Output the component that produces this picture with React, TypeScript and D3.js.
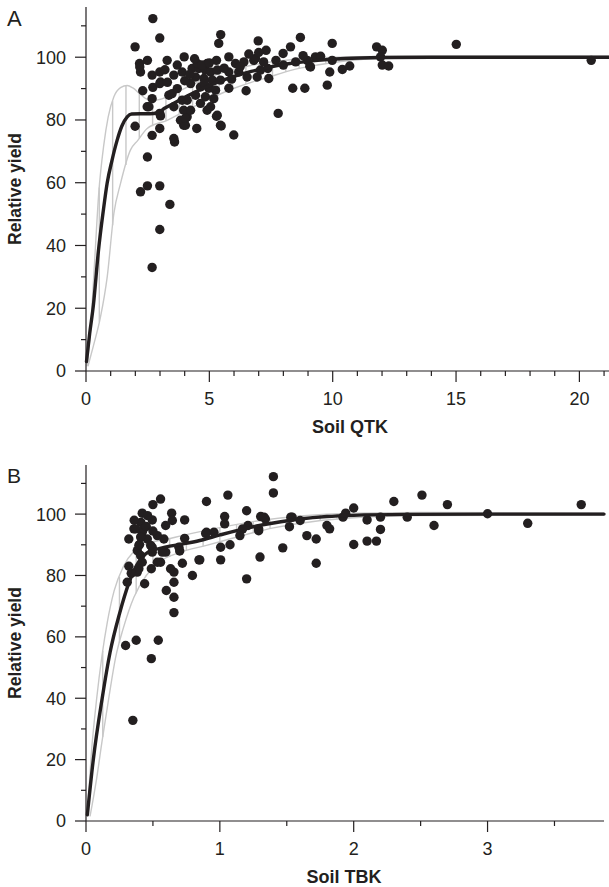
import React from 'react';
import * as d3 from 'd3';

const W = 609;
const H = 887;
const INK = '#231f20';
const GRAY = '#c8c8c8';
const FONT = '"Liberation Sans", Arial, Helvetica, sans-serif';

// ---------- Panel A: Soil QTK ----------
const pointsA: [number, number][] = [
  [2.71, 112.3], [2.99, 106.1], [1.99, 103.3], [5.46, 107.2], [5.38, 104.4], [6.98, 105.2], [8.69, 106.3], [8.29, 103.3], [7.30, 102.2], [7.99, 101.2],
  [2.17, 98], [2.21, 95.3], [2.49, 99], [3.29, 99], [3.98, 100.1], [2.68, 94.3], [2.99, 95.3], [3.02, 92.1], [3.56, 94.3], [3.90, 95.3],
  [2.30, 89.3], [2.71, 90.4], [2.68, 86.8], [2.48, 84.2], [3.02, 81.3], [1.99, 78], [2.68, 75.1], [2.99, 77.3], [2.49, 68.2], [3.59, 73],
  [4.49, 77.3], [5.48, 78.1], [5.99, 75.2], [7.79, 82.1], [8.38, 90.1], [8.87, 90.1], [5.79, 90.1], [6.49, 89.3], [5.79, 100.1], [5.29, 99],
  [6.40, 98.5], [6.80, 99], [7.37, 96.4], [9.10, 96.9], [9.30, 100.1], [3.36, 87.9], [5.29, 81.2], [4.10, 81], [3.96, 78.3],
  [2.21, 57.1], [2.49, 59], [2.99, 59], [3.40, 53.1], [2.99, 45.1], [2.68, 33],
  [9.98, 104.4], [9.78, 91.1], [9.88, 95.3], [9.98, 99], [10.39, 96.1], [10.69, 97.2], [8.97, 99], [9.07, 97.1], [9.51, 100.3],
  [11.78, 103.3], [12.01, 102.2], [12.01, 97.5], [12.27, 97.2], [11.94, 100.1], [15.01, 104.1], [20.48, 99],
  [2.18, 96.9], [2.99, 91.6], [3.49, 88.4], [2.55, 84.2], [3.56, 84.2], [3.90, 86.3], [3.96, 83.1], [3.83, 79.9], [4.03, 78.3], [3.56, 74.1], [2.99, 82.1],
  [4.30, 96.4], [4.57, 96.4], [4.84, 95.9], [5.05, 95.3], [5.32, 95.9], [4.44, 93.7], [4.78, 93.2], [5.12, 92.7], [4.24, 91.6], [4.64, 90.5],
  [4.98, 90.1], [5.25, 89.5], [4.44, 87.9], [4.84, 87.4], [5.18, 86.8], [4.10, 86.3], [4.64, 85.3], [5.05, 84.2], [5.32, 81.5], [5.45, 78.3],
  [4.24, 83.1], [4.03, 80.5], [4.91, 83.1], [4.51, 98], [4.91, 98],
  [6.06, 98], [6.87, 99.6], [5.79, 95.3], [6.19, 95.3], [6.53, 93.7], [6.94, 93.7], [7.41, 93.2], [5.45, 92.7], [7.07, 95.9],
  [3.3, 92], [3.7, 90], [4.0, 92.5], [4.2, 94.5], [4.7, 97.5], [5.0, 98.2], [5.6, 96.5], [5.9, 93], [6.25, 97], [7.7, 99],
  [8.0, 97.5], [8.5, 98.5], [7.0, 101.5], [6.6, 101], [7.2, 98.5], [8.8, 100.5], [3.2, 96], [4.4, 99.5], [3.7, 97.5], [4.8, 91.5],
];

const fitA: [number, number][] = [
  [0.02, 3], [0.15, 12], [0.3, 21], [0.5, 38], [0.7, 51], [0.86, 60], [1.05, 67], [1.26, 73.5], [1.45, 78], [1.67, 81],
  [1.85, 81.9], [2.2, 82], [2.6, 82], [2.9, 82.3], [3.2, 83.8], [3.56, 85.3], [4.1, 87.6], [4.64, 89.7], [5.3, 91.9], [6.0, 93.9],
  [6.7, 95.5], [7.35, 96.7], [8.2, 97.9], [9.4, 99], [10.5, 99.6], [12, 99.9], [14, 100], [21.2, 100],
];
const upperA: [number, number][] = [
  [0.04, 1.5], [0.2, 15], [0.35, 35], [0.52, 57], [0.72, 72], [0.9, 81], [1.13, 87.4], [1.4, 90.3], [1.67, 91], [1.9, 90.2],
  [2.2, 88.2], [2.5, 86.6], [2.9, 86.4], [3.5, 88.2], [4.1, 90.5], [4.64, 92.5], [5.3, 94.5], [6.0, 96.2], [6.7, 97.4], [7.35, 98.3],
  [8.3, 99.2], [9.4, 99.8], [11, 100.2], [13, 100.3], [21.2, 100.3],
];
const lowerA: [number, number][] = [
  [0.08, 1.5], [0.3, 8], [0.59, 17.3], [0.86, 30], [1.13, 50.2], [1.4, 59.8], [1.8, 70.4], [2.1, 73.5], [2.48, 77.3], [3.29, 79.9],
  [4.0, 82.8], [4.64, 85.3], [5.3, 87.8], [6.0, 90.1], [6.7, 92], [7.35, 93.5], [8.3, 95.8], [9.37, 97.5], [10.5, 98.8], [12, 99.6],
  [14, 99.8], [21.2, 99.8],
];
const ladderA: number[] = d3.range(0.54, 21.2, 0.54);
const xMajorA = [0, 5, 10, 15, 20];
const xMinorA = d3.range(0, 22, 1);

// ---------- Panel B: Soil TBK ----------
const pointsB: [number, number][] = [
  [1.40, 112.2], [1.40, 106.9], [0.557, 104.9], [0.50, 103.1], [1.06, 106.2], [0.90, 104.1], [1.20, 101.1], [0.42, 100.3], [0.64, 100.3], [0.737, 98.1],
  [0.495, 98.1], [0.41, 97.3], [0.645, 97.9], [0.595, 96.3], [1.036, 99.2], [1.036, 96.8], [1.305, 99.2], [1.34, 98.4], [1.21, 96.3], [1.17, 95.2],
  [1.29, 94.6], [1.15, 93], [1.53, 99], [1.60, 97.9], [1.52, 95.9], [1.65, 93], [1.72, 91.9], [1.72, 84], [1.47, 89], [1.30, 86],
  [1.20, 78.9], [0.90, 94.1], [0.956, 94.1], [1.006, 89.2], [1.076, 90], [1.006, 85.1], [0.85, 85.1], [0.795, 80], [0.72, 84], [0.694, 89.2],
  [0.70, 88], [0.737, 92.1], [0.582, 91.9], [0.533, 93], [0.495, 89.2], [0.595, 87.6], [0.557, 84.3], [0.488, 82.2], [0.657, 81.1], [0.632, 82.2],
  [0.657, 77.8], [0.60, 75.1], [0.657, 72.9], [0.657, 67.9], [0.32, 91.9], [0.358, 95.2], [0.42, 94.1], [0.458, 91.9], [0.40, 90.1], [0.383, 88.1],
  [0.408, 86.5], [0.32, 83], [0.338, 80.7], [0.383, 81.1], [0.308, 77.8], [0.438, 77.3], [0.42, 84.3], [0.296, 57.2], [0.375, 58.9], [0.54, 58.9],
  [0.488, 52.9], [0.35, 32.8],
  [0.37, 95.2], [0.43, 95.2], [0.408, 92.5], [0.483, 89.8], [0.395, 89.8], [0.495, 87.6], [0.57, 87.6], [0.533, 84.3], [0.395, 82.2], [0.844, 85.1], [0.894, 93.7],
  [1.33, 99], [1.29, 95.2], [1.54, 99], [1.80, 96.3], [1.82, 95.2], [1.92, 99], [1.94, 100.3], [2.0, 102], [2.10, 98.1], [2.20, 99],
  [2.20, 95], [2.0, 90.1], [2.10, 91.2], [2.17, 91.2], [2.30, 104.1], [2.40, 99], [2.51, 106.2], [2.60, 96.3],
  [3.0, 100.1], [3.30, 97], [3.70, 103.1], [2.70, 103.1],
  [0.36, 98], [0.45, 96], [0.5, 94.5], [0.46, 99.5],
];

const fitB: [number, number][] = [
  [0.01, 2], [0.054, 19.8], [0.121, 40], [0.18, 55], [0.25, 67.5], [0.32, 77.5], [0.38, 83.5], [0.445, 87], [0.5, 88.2], [0.6, 89.3],
  [0.7, 90.1], [0.85, 91.4], [1.0, 93.2], [1.23, 95.7], [1.4, 97.1], [1.6, 98.4], [1.8, 99.2], [2.0, 99.6], [2.4, 99.9], [3.0, 100], [3.87, 100],
];
const upperB: [number, number][] = [
  [0.01, 2], [0.04, 22], [0.08, 40], [0.12, 54], [0.16, 65], [0.21, 75], [0.28, 83], [0.36, 88], [0.45, 90.3], [0.6, 91.8],
  [0.8, 93.8], [1.0, 95.6], [1.3, 97.9], [1.6, 99.4], [2.0, 100.3], [2.5, 100.5], [3.87, 100.4],
];
const lowerB: [number, number][] = [
  [0.03, 1.5], [0.08, 14], [0.12, 26], [0.17, 40], [0.22, 53], [0.28, 63], [0.358, 72.9], [0.45, 80], [0.55, 84.5], [0.7, 87.5],
  [0.9, 89.8], [1.1, 92.2], [1.4, 95.5], [1.7, 97.6], [2.0, 98.8], [2.5, 99.5], [3.87, 99.7],
];
const ladderB: number[] = d3.range(0.125, 3.87, 0.125);
const xMajorB = [0, 1, 2, 3];
const xMinorB = [0.5, 1.5, 2.5, 3.5];

const yMajor = [0, 20, 40, 60, 80, 100];
const yMinor = [10, 30, 50, 70, 90, 110];

type Pt = [number, number];

interface PanelProps {
  label: string;
  labelY: number;
  labelSize: number;
  points: Pt[];
  fit: Pt[];
  upper: Pt[];
  lower: Pt[];
  ladder: number[];
  xMax: number;
  xRight: number;
  yBottom: number;
  yTop: number;
  xMajor: number[];
  xMinor: number[];
  xTitle: string;
  xTitleX: number;
}

function Panel(p: PanelProps) {
  const x = d3.scaleLinear().domain([0, p.xMax]).range([86, p.xRight]);
  const y = d3.scaleLinear().domain([0, 116]).range([p.yBottom, p.yTop]);
  const line = d3
    .line<Pt>()
    .x((d) => x(d[0]))
    .y((d) => y(d[1]))
    .curve(d3.curveMonotoneX);
  const interp = (arr: Pt[]) =>
    d3.scaleLinear().domain(arr.map((d) => d[0])).range(arr.map((d) => d[1])).clamp(true);
  const up = interp(p.upper);
  const lo = interp(p.lower);
  const x0 = x(0);
  const y0 = y(0);
  const majorLen = 11;
  const minorLen = 5;
  return (
    <g>
      <text x={7} y={p.labelY} fontSize={p.labelSize} fill={INK} fontFamily={FONT}>
        {p.label}
      </text>
      {/* confidence band */}
      <g fill="none" stroke={GRAY} strokeWidth={1.4}>
        <path d={line(p.upper) || ''} />
        <path d={line(p.lower) || ''} />
        {p.ladder.map((lx, i) => (
          <line key={i} x1={x(lx)} x2={x(lx)} y1={y(up(lx))} y2={y(lo(lx))} />
        ))}
      </g>
      {/* points */}
      <g fill={INK}>
        {p.points.map((d, i) => (
          <circle key={i} cx={x(d[0])} cy={y(d[1])} r={4.7} />
        ))}
      </g>
      {/* fitted line */}
      <path d={line(p.fit) || ''} fill="none" stroke={INK} strokeWidth={3.4} strokeLinecap="round" />
      {/* axes */}
      <g stroke={INK} strokeWidth={1.2}>
        <line x1={x0} x2={x0} y1={y0} y2={p.yTop} />
        <line x1={x0} x2={p.xRight} y1={y0} y2={y0} />
        {yMajor.map((v) => (
          <line key={'ym' + v} x1={x0 - majorLen} x2={x0} y1={y(v)} y2={y(v)} />
        ))}
        {yMinor.map((v) => (
          <line key={'yn' + v} x1={x0 - minorLen} x2={x0} y1={y(v)} y2={y(v)} />
        ))}
        {p.xMajor.map((v) => (
          <line key={'xm' + v} x1={x(v)} x2={x(v)} y1={y0} y2={y0 + majorLen} />
        ))}
        {p.xMinor
          .filter((v) => !p.xMajor.includes(v))
          .map((v) => (
            <line key={'xn' + v} x1={x(v)} x2={x(v)} y1={y0} y2={y0 + minorLen} />
          ))}
      </g>
      <g fill={INK} fontFamily={FONT} fontSize={18}>
        {yMajor.map((v) => (
          <text key={'yl' + v} x={x0 - 20} y={y(v)} dy="0.36em" textAnchor="end">
            {v}
          </text>
        ))}
        {p.xMajor.map((v) => (
          <text key={'xl' + v} x={x(v)} y={y0 + 34} textAnchor="middle">
            {v}
          </text>
        ))}
      </g>
      <text
        x={p.xTitleX}
        y={y0 + 62}
        textAnchor="middle"
        fontFamily={FONT}
        fontWeight="bold"
        fontSize={18}
        fill={INK}
      >
        {p.xTitle}
      </text>
      <text
        transform={`translate(21,${(y0 + p.yTop) / 2}) rotate(-90)`}
        textAnchor="middle"
        fontFamily={FONT}
        fontWeight="bold"
        fontSize={17.5}
        fill={INK}
      >
        Relative yield
      </text>
    </g>
  );
}

export default function App() {
  return (
    <svg
      width={W}
      height={H}
      viewBox={`0 0 ${W} ${H}`}
      style={{ position: 'absolute', left: 0, top: 0, background: '#fff' }}
    >
      <rect width={W} height={H} fill="#fff" />
      <Panel
        label="A"
        labelY={26}
        labelSize={22}
        points={pointsA}
        fit={fitA}
        upper={upperA}
        lower={lowerA}
        ladder={ladderA}
        xMax={21.2}
        xRight={609}
        yBottom={371}
        yTop={7}
        xMajor={xMajorA}
        xMinor={xMinorA}
        xTitle="Soil QTK"
        xTitleX={350}
      />
      <Panel
        label="B"
        labelY={483}
        labelSize={21}
        points={pointsB}
        fit={fitB}
        upper={upperB}
        lower={lowerB}
        ladder={ladderB}
        xMax={3.87}
        xRight={604}
        yBottom={821}
        yTop={465}
        xMajor={xMajorB}
        xMinor={xMinorB}
        xTitle="Soil TBK"
        xTitleX={344}
      />
    </svg>
  );
}
